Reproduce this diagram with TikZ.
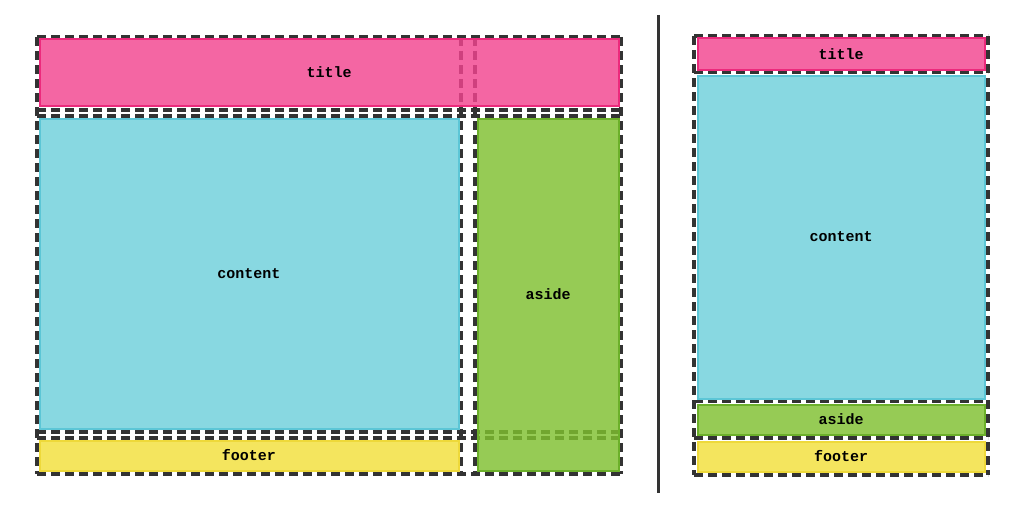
\documentclass[tikz,border=0pt]{standalone}
\usepackage{fontspec}
\setmonofont{Liberation Mono}

\definecolor{linegray}{HTML}{333333}
\definecolor{titlefill}{HTML}{F2448F}
\definecolor{titleline}{HTML}{EC2A7C}
\definecolor{contentfill}{HTML}{6ED0DB}
\definecolor{contentline}{HTML}{5CC6D6}
\definecolor{asidefill}{HTML}{7FC02F}
\definecolor{asideline}{HTML}{6CB02A}
\definecolor{footerfill}{HTML}{F1DF3A}
\definecolor{footerline}{HTML}{EED93A}

\begin{document}
\begin{tikzpicture}[x=1pt, y=-1pt,
  gridline/.style={draw=linegray, line width=3.5pt, dash pattern=on 9pt off 5pt},
  cell/.style={anchor=north west, inner sep=0pt, outer sep=0pt, line width=2pt,
    fill opacity=.82, text opacity=1,
    font=\ttfamily\bfseries\fontsize{15}{16}\selectfont},
  titlecell/.style={cell, draw=titleline, fill=titlefill},
  contentcell/.style={cell, draw=contentline, fill=contentfill},
  asidecell/.style={cell, draw=asideline, fill=asidefill},
  footercell/.style={cell, draw=footerline, fill=footerfill}]
  \useasboundingbox (0,0) rectangle (1024,511);
  % two column grid
  \foreach \x in {37,461,475,621}
    \draw[gridline] (\x,37) -- (\x,474);
  \foreach \y in {37,110,116,432,438,474}
    \draw[gridline] (37,\y) -- (621,\y);
  \node[titlecell, minimum width=579pt, minimum height=66pt] (title) at (39.5,39.5) {title};
  \node[contentcell, minimum width=419pt, minimum height=310pt] (content) at (39.5,118.5) {content};
  \node[asidecell, minimum width=141pt, minimum height=352pt] (aside) at (477.5,118.5) {aside};
  \node[footercell, minimum width=419pt, minimum height=30pt] (footer) at (39.5,440.5) {footer};
  % divider
  \draw[line width=3pt, linegray] (658,15) -- (658,493);
  % one column grid
  \foreach \x in {694,988}
    \draw[gridline] (\x,36) -- (\x,475);
  \foreach \y in {36,72.5,401.5,438,475}
    \draw[gridline] (694,\y) -- (988,\y);
  \node[titlecell, minimum width=287pt, minimum height=31pt] (title2) at (697.5,38.5) {title};
  \node[contentcell, minimum width=287pt, minimum height=323pt] (content2) at (697.5,75.5) {content};
  \node[asidecell, minimum width=287pt, minimum height=30pt] (aside2) at (697.5,404.5) {aside};
  \node[footercell, minimum width=287pt, minimum height=30pt] (footer2) at (697.5,441.5) {footer};
\end{tikzpicture}
\end{document}
